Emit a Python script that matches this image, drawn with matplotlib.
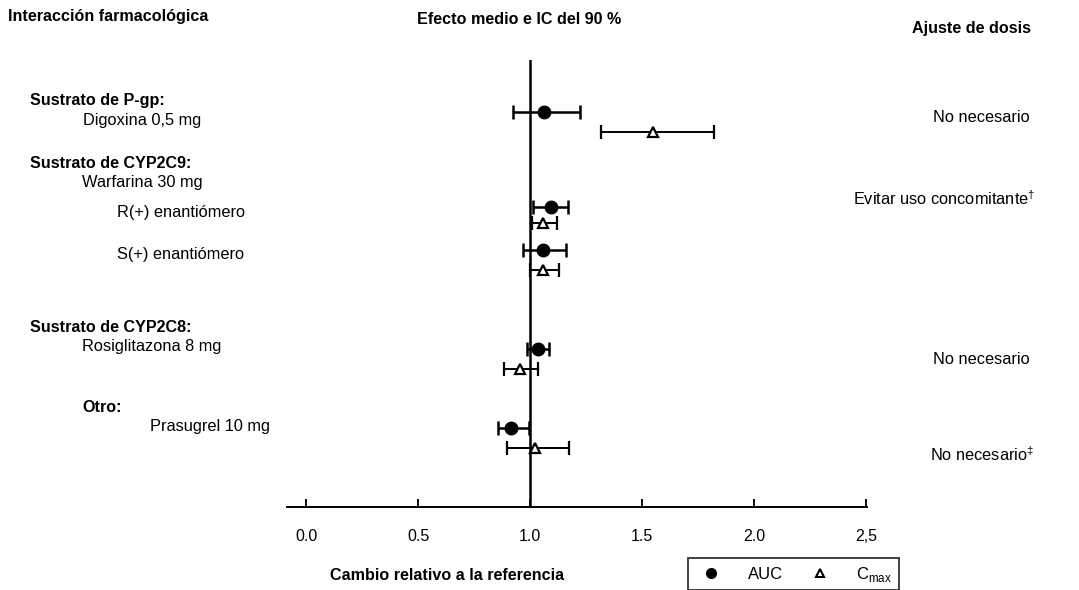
import matplotlib
matplotlib.use("Agg")
import matplotlib.pyplot as plt
from matplotlib.lines import Line2D

plt.rcParams['font.family'] = ['Liberation Sans', 'DejaVu Sans']
plt.rcParams['mathtext.fontset'] = 'custom'
plt.rcParams['mathtext.rm'] = 'Liberation Sans'

# one row per drug: AUC and Cmax ratio with 90 % CI
row_names = ["Digoxina 0,5 mg", "R(+) enantiómero", "S(+) enantiómero",
             "Rosiglitazona 8 mg", "Prasugrel 10 mg"]
auc_mean = [1.063, 1.094, 1.058, 1.036, 0.915]
auc_lo = [0.924, 1.013, 0.969, 0.987, 0.857]
auc_hi = [1.223, 1.170, 1.161, 1.085, 0.996]
cmax_mean = [1.549, 1.058, 1.058, 0.955, 1.022]
cmax_lo = [1.317, 1.009, 1.000, 0.884, 0.897]
cmax_hi = [1.820, 1.120, 1.129, 1.036, 1.174]
# vertical position of each row (pixel rows of the page)
auc_y = [112, 207, 250, 349, 428]
cmax_y = [132, 223, 270, 369, 448]

xticks = [0.0, 0.5, 1.0, 1.5, 2.0, 2.5]
xtick_labels = ["0.0", "0.5", "1.0", "1.5", "2.0", "2,5"]

W, H = 1079, 590
fig = plt.figure(figsize=(W / 100, H / 100), dpi=100)

def fx(px):
    return px / W

def fy(py):
    return 1 - py / H

# axes: pixel 287..867 horizontally, 60..507 vertically
ax = fig.add_axes([fx(287), fy(507), fx(867) - fx(287), (507 - 60) / H])
ax.set_xlim(-0.085, 2.505)
ax.set_ylim(507, 60)

ax.axvline(1.0, color='black', lw=1.8, zorder=1)

ax.errorbar(auc_mean, auc_y,
            xerr=[[m - l for m, l in zip(auc_mean, auc_lo)],
                  [h - m for m, h in zip(auc_mean, auc_hi)]],
            fmt='o', color='black', ms=9, elinewidth=1.8, capsize=5, capthick=1.8, zorder=3)
ax.errorbar(cmax_mean, cmax_y,
            xerr=[[m - l for m, l in zip(cmax_mean, cmax_lo)],
                  [h - m for m, h in zip(cmax_mean, cmax_hi)]],
            fmt='^', color='black', mfc='white', mec='black', mew=1.6, ms=7,
            elinewidth=1.4, capsize=5, capthick=1.4, zorder=3)

for s in ['top', 'right', 'left']:
    ax.spines[s].set_visible(False)
ax.spines['bottom'].set_linewidth(1.4)
ax.set_yticks([])
ax.set_xticks(xticks)
ax.set_xticklabels(xtick_labels, fontsize=11.5)
ax.tick_params(axis='x', direction='in', length=6, width=1.3, pad=16)

bold = dict(fontweight='bold', fontsize=11.6, va='center')
norm = dict(fontsize=11.8, va='center')

fig.text(fx(8), fy(17), "Interacción farmacológica", ha='left', **bold)
fig.text(fx(519), fy(20), "Efecto medio e IC del 90 %", ha='center', **bold)
fig.text(fx(971), fy(28), "Ajuste de dosis", ha='center', **bold)

fig.text(fx(30), fy(100), "Sustrato de P-gp:", ha='left', **bold)
fig.text(fx(83), fy(120), row_names[0], ha='left', **norm)
fig.text(fx(30), fy(163), "Sustrato de CYP2C9:", ha='left', **bold)
fig.text(fx(82), fy(183), "Warfarina 30 mg", ha='left', **norm)
fig.text(fx(117), fy(213), row_names[1], ha='left', **norm)
fig.text(fx(117), fy(255), row_names[2], ha='left', **norm)
fig.text(fx(30), fy(327), "Sustrato de CYP2C8:", ha='left', **bold)
fig.text(fx(82), fy(347), row_names[3], ha='left', **norm)
fig.text(fx(82), fy(407), "Otro:", ha='left', **bold)
fig.text(fx(150), fy(427), row_names[4], ha='left', **norm)

fig.text(fx(1030), fy(117), "No necesario", ha='right', **norm)
fig.text(fx(1035), fy(199), "Evitar uso concomitante$^{\\dagger}$", ha='right', **norm)
fig.text(fx(1030), fy(360), "No necesario", ha='right', **norm)
fig.text(fx(1034), fy(455), "No necesario$^{\\ddagger}$", ha='right', **norm)

fig.text(fx(447), fy(576), "Cambio relativo a la referencia", ha='center', **bold)

handles = [Line2D([], [], marker='o', ls='none', color='black', ms=7),
           Line2D([], [], marker='^', ls='none', mfc='white', mec='black', mew=1.5, ms=6)]
leg = fig.legend(handles, ["AUC", "C$_{\\mathregular{max}}$"], ncol=2,
                 loc='upper left', bbox_to_anchor=(fx(688), fy(558)),
                 frameon=True, fancybox=False, edgecolor='black', fontsize=12,
                 borderpad=0.4, handletextpad=1.2, columnspacing=1.2, borderaxespad=0)
leg.get_frame().set_linewidth(1.3)

fig.savefig("out.png", dpi=100)
